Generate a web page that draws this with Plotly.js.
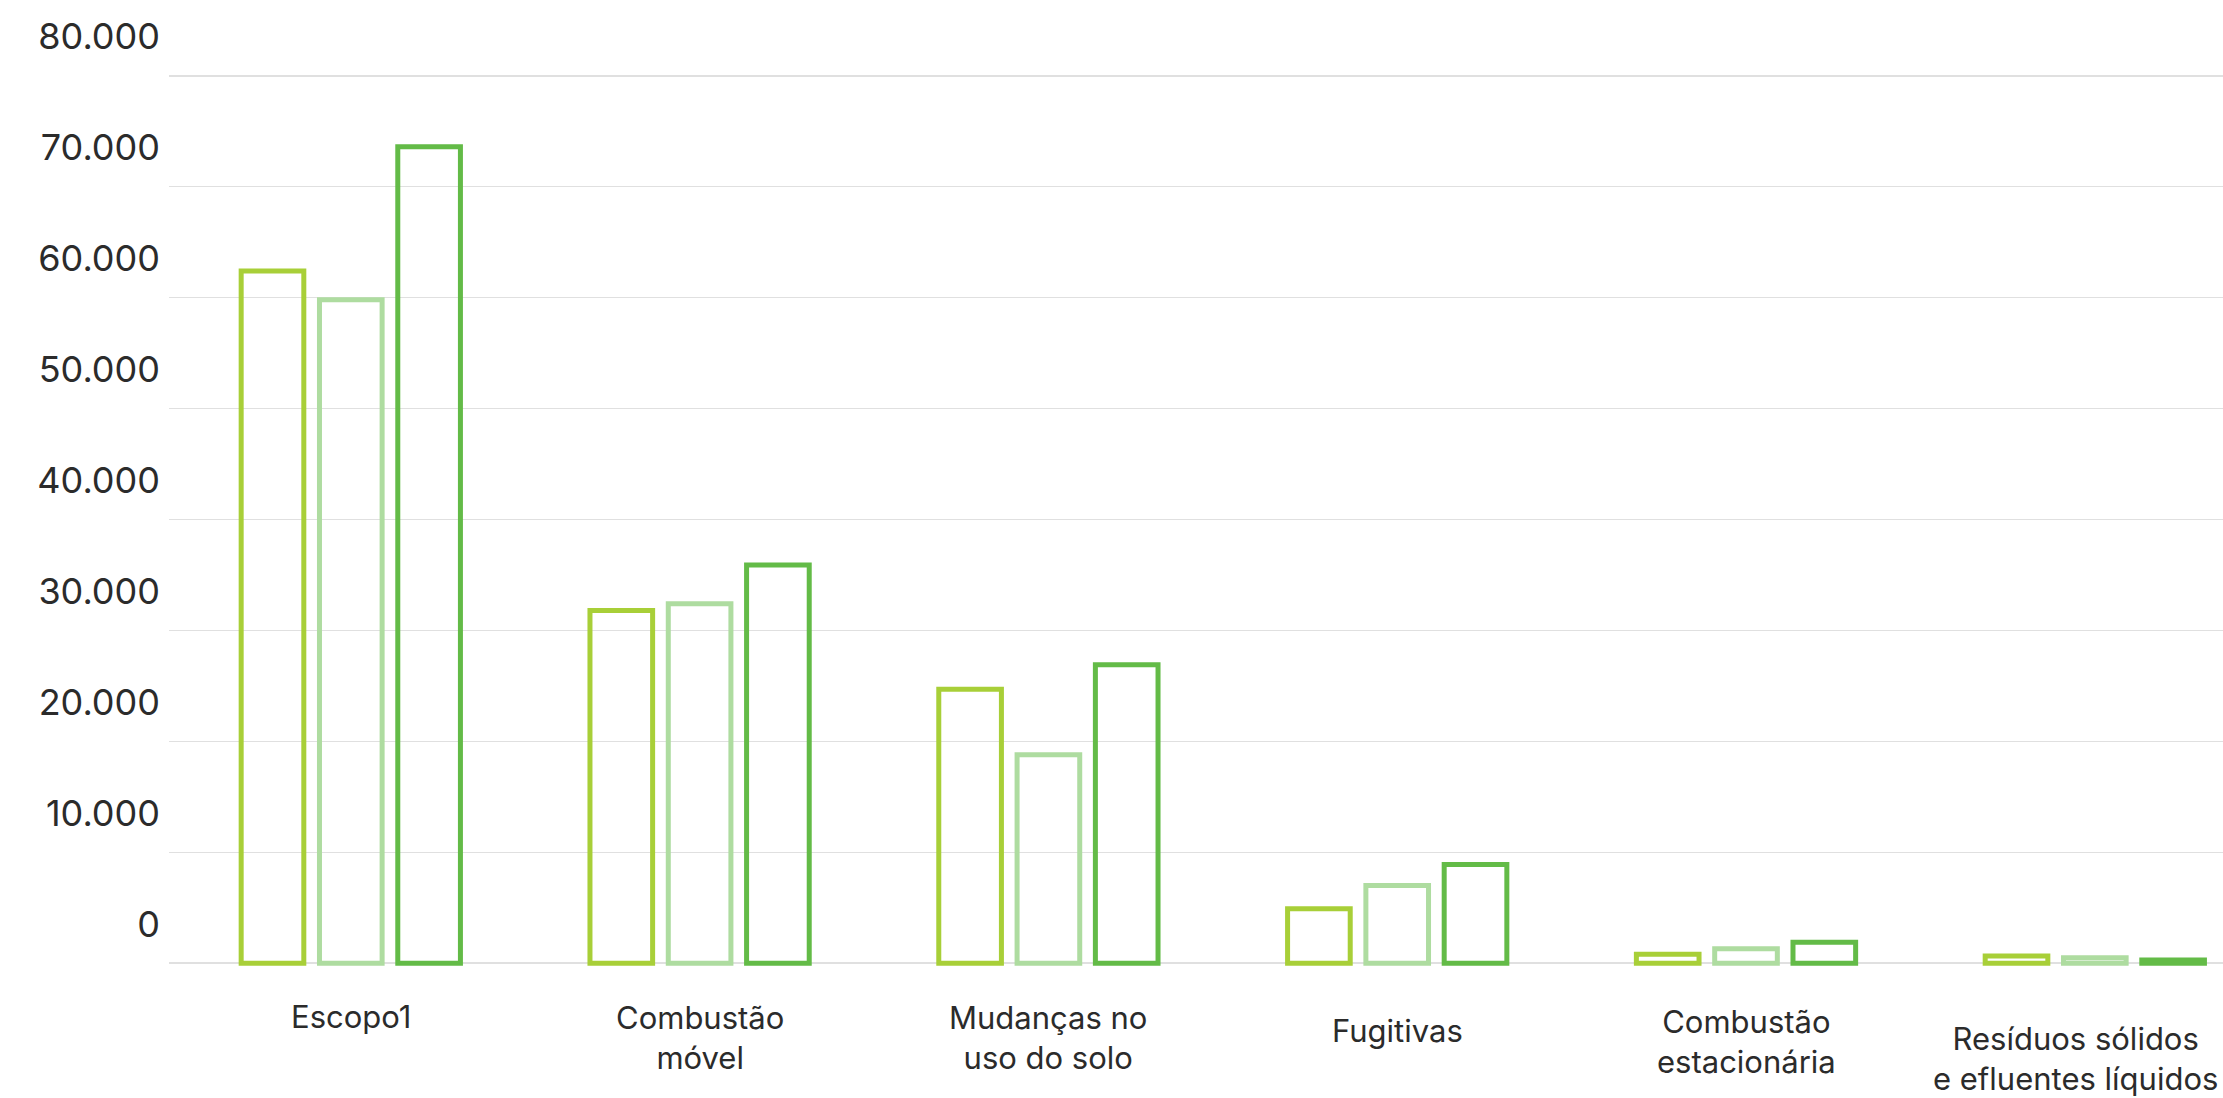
<!DOCTYPE html>
<html>
<head>
<meta charset="utf-8">
<script src="https://cdn.plot.ly/plotly-3.0.1.min.js"></script>
<style>
  html, body { margin: 0; padding: 0; background: #ffffff; }
  #chart { width: 2223px; height: 1098px; }
</style>
</head>
<body>
<div id="chart"></div>
<script>
// ---- Data ----
const categories = [
  "Escopo1",
  "Combustão<br>móvel",
  "Mudanças no<br>uso do solo",
  "Fugitivas",
  "Combustão<br>estacionária",
  "Resíduos sólidos<br>e efluentes líquidos"
];
const seriesA = [62400, 31800, 24700, 4900, 800, 650];
const seriesB = [59800, 32400, 18800, 7000, 1300, 500];
const seriesC = [73600, 35900, 26900, 8900, 1900, 300];
const yTickVals = [0, 10000, 20000, 30000, 40000, 50000, 60000, 70000, 80000];

// ---- Styles ----
const colors = ["#A8CF38", "#AEDCA0", "#63BB47"];
const textColor = "#2b2b2b";
const fontFamily = "Inter, 'Open Sans', sans-serif";
// small per-label vertical / horizontal nudges of the category labels (px)
const labelYShift = [-30, -31, -31, -44, -35, -52];
const labelXShift = [0, 0, 0, 0, 0, -19];

function barTrace(values, color, name) {
  return {
    type: "bar",
    name: name,
    x: categories,
    y: values,
    marker: {
      color: "rgba(255,255,255,0)",
      line: { color: color, width: 5 }
    },
    hoverinfo: "skip"
  };
}

const data = [
  barTrace(seriesA, colors[0], "Série A"),
  barTrace(seriesB, colors[1], "Série B"),
  barTrace(seriesC, colors[2], "Série C")
];

const annotations = categories.map((c, i) => ({
  x: c,
  xref: "x",
  y: 0,
  yref: "paper",
  yanchor: "top",
  xanchor: "center",
  yshift: labelYShift[i],
  xshift: labelXShift[i],
  text: c,
  showarrow: false,
  align: "center",
  font: { family: fontFamily, size: 31, color: textColor }
}));

const layout = {
  width: 2223,
  height: 1098,
  margin: { l: 169, r: 0, t: 72, b: 132, pad: 0 },
  paper_bgcolor: "#ffffff",
  plot_bgcolor: "#ffffff",
  showlegend: false,
  separators: ",.",
  barmode: "group",
  bargap: 0.3265,
  bargroupgap: 0.2,
  font: { family: fontFamily, color: textColor },
  xaxis: {
    type: "category",
    range: [-0.5212, 5.3675],
    showgrid: false,
    showline: false,
    zeroline: false,
    ticks: "",
    showticklabels: false,
    fixedrange: true
  },
  yaxis: {
    range: [-250, 80340],
    tickmode: "array",
    tickvals: yTickVals,
    tickformat: ",d",
    showgrid: true,
    gridcolor: "#e0e0e0",
    gridwidth: 1.5,
    zeroline: false,
    showline: false,
    ticks: "",
    ticklabelshift: -39,
    ticklabelstandoff: 8,
    tickfont: { family: fontFamily, size: 36, color: textColor },
    fixedrange: true
  },
  annotations: annotations
};

Plotly.newPlot("chart", data, layout, { displayModeBar: false, staticPlot: true });
</script>
</body>
</html>
